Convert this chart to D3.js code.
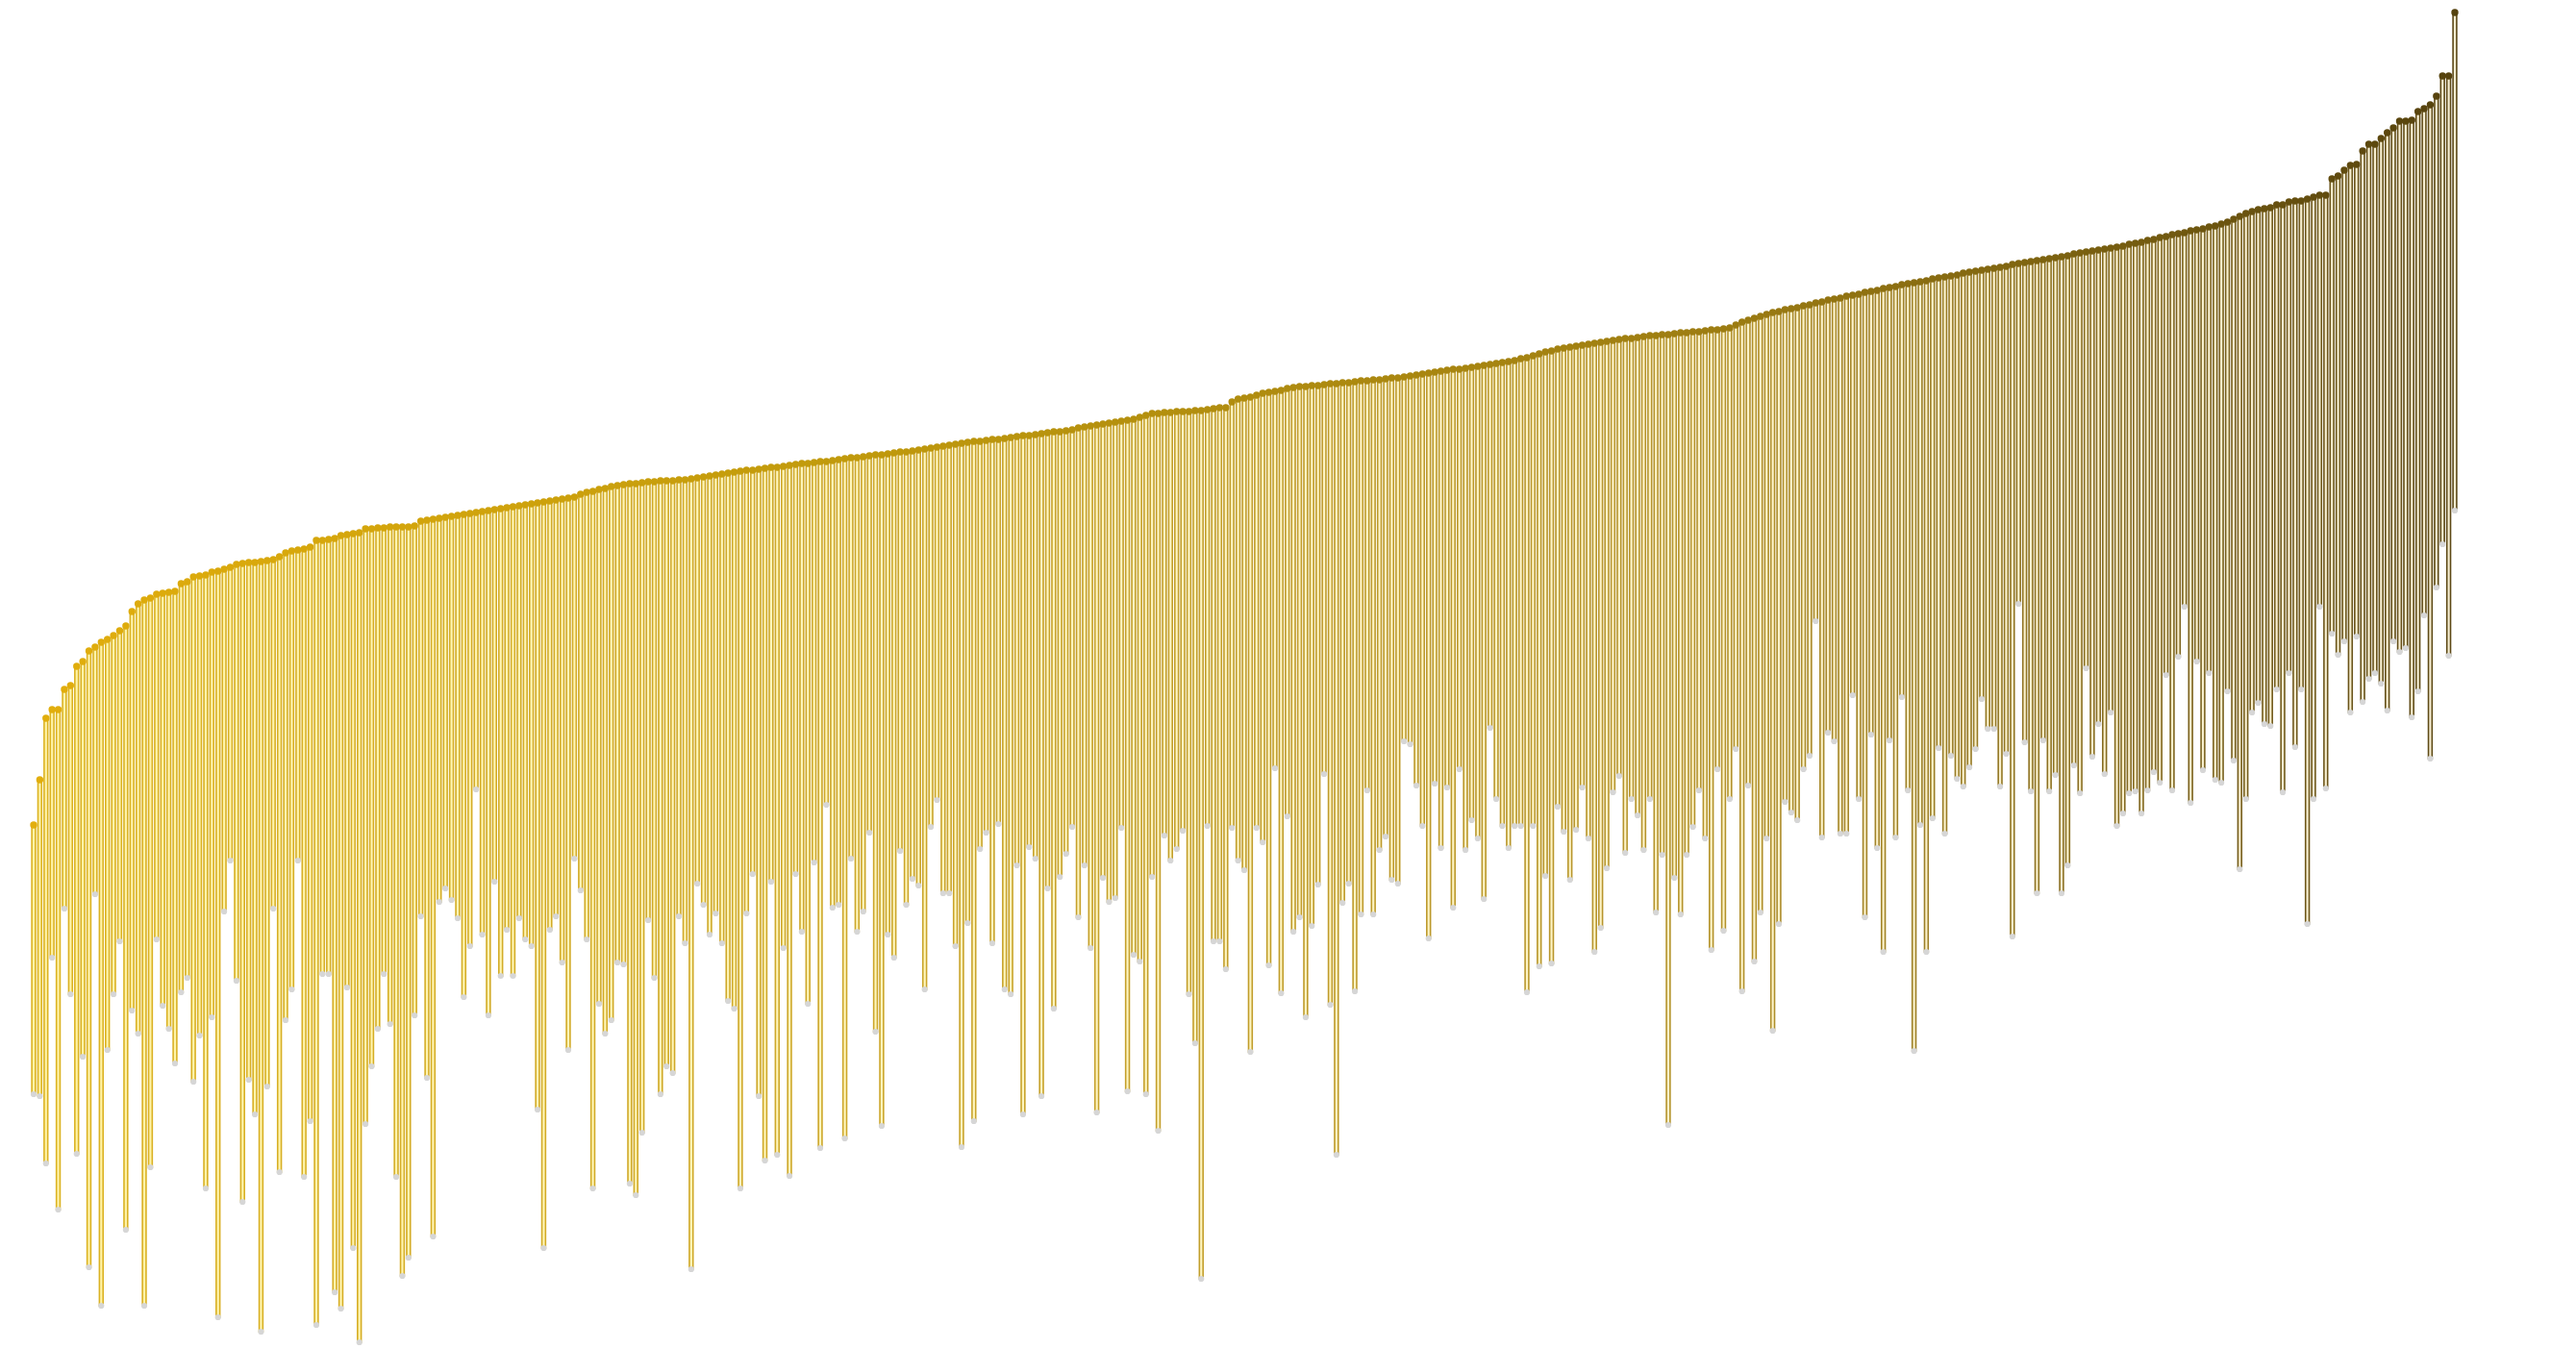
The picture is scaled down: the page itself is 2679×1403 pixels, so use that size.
<!DOCTYPE html>
<html><head><meta charset="utf-8">
<script src="https://cdn.jsdelivr.net/npm/d3@7"></script>
<style>html,body{margin:0;padding:0;background:#fff;}svg{display:block;}</style>
</head><body>
<svg id="chart" width="2679" height="1403"></svg>
<script>
// Upper ends of each stem (position units, larger = lower on screen)
const highEnd = [
858,811,747,738,738,717,713,693,688,677,
673,668,665,661,656,651,636,628,624,622,
618,617,616,615,607,605,600,599,598,595,
594,592,590,587,586,585,585,584,583,582,
579,575,573,572,571,569,562,562,561,560,
557,556,555,554,550,550,549,549,548,548,
548,548,547,542,541,540,539,538,537,536,
535,534,533,532,531,530,529,528,527,526,
525,524,523,522,521,520,519,518,517,514,
512,511,509,508,506,505,504,503,503,502,
501,501,500,500,500,499,499,498,497,496,
495,494,493,492,491,490,489,489,488,487,
486,486,485,484,483,482,482,481,480,480,
479,478,477,476,476,475,474,473,473,472,
471,470,470,469,468,467,466,465,464,463,
462,461,460,459,459,458,457,457,456,455,
454,453,453,452,451,450,449,449,448,447,
445,444,443,442,441,440,439,438,437,436,
434,432,430,430,429,429,428,428,428,427,
427,426,425,424,424,418,415,414,413,411,
409,408,407,406,404,403,402,402,401,401,
400,399,399,398,398,397,396,396,395,395,
394,393,393,392,391,390,389,388,387,386,
385,384,384,383,382,381,380,379,378,377,
376,375,373,372,370,368,366,365,363,362,
361,360,359,358,357,356,355,354,353,352,
352,351,350,349,349,348,348,347,346,346,
345,345,344,343,343,342,341,338,335,333,
331,329,327,325,324,322,321,320,318,317,
315,314,312,311,310,308,307,306,304,303,
302,300,299,298,296,295,294,293,292,290,
289,288,287,286,284,283,282,281,280,279,
278,277,275,274,273,272,271,270,269,268,
267,266,264,263,262,261,260,259,258,257,
256,254,253,252,250,249,247,246,244,243,
242,240,239,238,236,235,233,231,228,225,
222,220,218,217,216,213,213,210,209,209,
207,205,203,203,186,183,177,172,171,157,
150,150,144,138,133,126,126,125,116,113,
109,100,79,79,13
];
// Lower ends of each stem
const lowEnd = [
1138,1140,1210,996,1258,945,1034,1200,1099,1318,
930,1358,1092,1034,979,1279,1051,1075,1358,1214,
977,1046,1070,1106,1032,1017,1125,1077,1236,1058,
1370,948,895,1020,1250,1123,1159,1385,1130,945,
1219,1061,1029,895,1224,1166,1378,1013,1013,1344,
1361,1027,1298,1396,1169,1109,1070,1013,1065,1224,
1327,1308,1056,953,1121,1286,938,924,936,955,
1037,984,821,972,1056,917,1015,967,1015,955,
977,984,1154,1298,967,953,1001,1092,893,926,
977,1236,1044,1075,1061,1001,1003,1231,1243,1178,
957,1017,1138,1109,1116,953,981,1320,919,941,
972,950,981,1041,1049,1236,950,909,1140,1207,
917,1201,986,1223,909,969,1044,897,1194,837,
944,941,1184,893,969,948,866,1073,1171,972,
996,885,941,914,921,1029,860,832,929,929,
984,1193,960,1166,883,866,981,857,1029,1034,
900,1159,881,893,1140,924,1049,912,888,860,
954,900,986,1157,913,938,934,861,1135,993,
1000,1138,912,1176,869,895,883,864,1034,1085,
1330,859,979,979,1008,861,895,905,1094,861,
876,1004,799,1033,849,969,954,1058,963,920,
805,1045,1201,939,919,1031,951,822,951,884,
870,915,919,771,774,817,859,976,815,882,
819,944,800,884,853,872,935,757,831,859,
882,859,859,1032,859,1005,911,1002,839,865,
915,863,819,872,990,965,903,824,807,887,
831,848,884,831,949,889,1170,913,951,889,
860,822,872,988,800,968,831,779,1031,817,
1000,949,872,1072,961,834,845,853,800,786,
646,871,762,771,867,867,723,831,954,764,
882,990,770,871,725,822,1093,858,990,851,
778,867,786,810,818,798,779,727,758,758,
818,784,974,628,772,823,929,770,823,806,
929,900,796,825,695,787,753,805,741,859,
846,825,823,846,822,803,814,702,822,683,
631,835,688,801,700,811,814,719,791,904,
831,741,731,753,755,717,824,700,777,717,
961,831,631,820,659,681,667,741,662,730,
706,700,711,739,667,678,674,746,719,640,
789,611,566,682,531
];
const stemColors = ["#dcb322", "#cda72a", "#b3922c", "#5c4816"];
const dotColors = ["#e2ae0c", "#c19a0c", "#9c7c12", "#55420e"];
const paleColors = ["#fff3a6", "#fff6bc", "#fdf3c8", "#f6eed2"];

const W = 2679, H = 1403;
const n = highEnd.length;
const idx = d3.range(n);
const data = idx.map(i => ({i, hi: highEnd[i], lo: lowEnd[i]}));

const x = d3.scalePoint().domain(idx).range([35, 2553]);
const y = d3.scaleLinear().domain([0, 1403]).range([0, H]);
const cStops = [0, n*0.33, n*0.7, n-1];
const stemC = d3.scaleLinear().domain(cStops).range(stemColors);
const dotC = d3.scaleLinear().domain(cStops).range(dotColors);
const paleC = d3.scaleLinear().domain(cStops).range(paleColors);

const svg = d3.select("#chart");
svg.append("rect").attr("width", W).attr("height", H).attr("fill", "#fff");

const g = svg.append("g");
const sw = 3.8;
g.selectAll("rect.stem").data(data).join("rect")
  .attr("class", "stem")
  .attr("x", d => x(d.i) - sw/2)
  .attr("y", d => y(d.hi))
  .attr("width", sw)
  .attr("height", d => y(d.lo) - y(d.hi))
  .attr("fill", d => paleC(d.i))
  .attr("stroke", d => stemC(d.i))
  .attr("stroke-width", 1.6);

g.selectAll("circle.lo").data(data).join("circle")
  .attr("class", "lo")
  .attr("cx", d => x(d.i))
  .attr("cy", d => y(d.lo))
  .attr("r", 3.1)
  .attr("fill", "#d6d6d6");

g.selectAll("circle.hi").data(data).join("circle")
  .attr("class", "hi")
  .attr("cx", d => x(d.i))
  .attr("cy", d => y(d.hi))
  .attr("r", 3.7)
  .attr("fill", d => dotC(d.i));
</script>
</body></html>
